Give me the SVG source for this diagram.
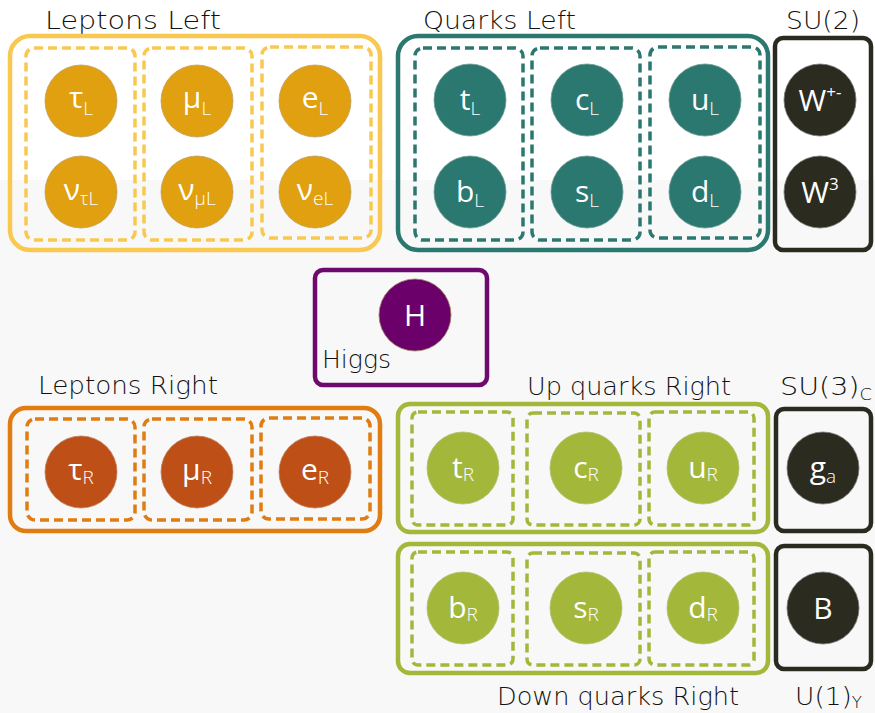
<svg xmlns="http://www.w3.org/2000/svg" width="875" height="713" viewBox="0 0 875 713">
<style>
.lbl{font-family:"DejaVu Sans",Lato,sans-serif;font-weight:200;font-size:24px;fill:#111}
.pt{font-family:"Open Sans","Noto Sans",sans-serif;font-weight:400;font-size:30px;fill:#fff;text-anchor:middle}
.sub{font-size:19px;font-weight:300}
.sup{font-size:17px}
.outer{fill:none;stroke-width:4.5}
.dash{fill:none;stroke-width:3.5;stroke-dasharray:9 5}
.yl{stroke:#f8c850}.ylc{fill:#e0a010;stroke:#bfa060;stroke-width:0.8}
.tl{stroke:#2b7870}.tlc{fill:#2b7870;stroke:#6a9a90;stroke-width:0.8}
.dk{stroke:#2a2a20}.dkc{fill:#2b2b20;stroke:#777;stroke-width:0.8}
.or{stroke:#e07c12}.orc{fill:#bd4f17;stroke:#c08060;stroke-width:0.8}
.gr{stroke:#a2b83a}.grc{fill:#a3b83a;stroke:#b0c070;stroke-width:0.8}
.pu{stroke:#6e0a6e}.puc{fill:#6b006b;stroke:#a08060;stroke-width:0.8}
</style>
<rect x="0" y="0" width="875" height="713" fill="#f8f8f8"/>
<rect x="0" y="0" width="875" height="180" fill="#ffffff"/>

<g id="leptons-left">
<text class="lbl" x="45" y="29" textLength="176" lengthAdjust="spacingAndGlyphs">Leptons  Left</text>
<rect class="outer yl" x="10" y="36" width="370" height="214" rx="20"/>
<rect class="dash yl" x="26" y="48" width="109" height="192" rx="8"/>
<rect class="dash yl" x="144" y="48" width="108" height="192" rx="8"/>
<rect class="dash yl" x="262" y="47" width="109" height="191" rx="8"/>
<circle class="ylc" cx="81" cy="101" r="36"/>
<text class="pt" x="81" y="108">τ<tspan class="sub" dy="7">L</tspan></text>
<circle class="ylc" cx="197" cy="101" r="36"/>
<text class="pt" x="197" y="108">μ<tspan class="sub" dy="7">L</tspan></text>
<circle class="ylc" cx="315" cy="101" r="36"/>
<text class="pt" x="315" y="108">e<tspan class="sub" dy="7">L</tspan></text>
<circle class="ylc" cx="81" cy="192" r="36"/>
<text class="pt" x="81" y="200">ν<tspan class="sub" dy="5">τL</tspan></text>
<circle class="ylc" cx="197" cy="192" r="36"/>
<text class="pt" x="197" y="200">ν<tspan class="sub" dy="5">μL</tspan></text>
<circle class="ylc" cx="315" cy="192" r="36"/>
<text class="pt" x="315" y="200">ν<tspan class="sub" dy="5">eL</tspan></text>
</g>

<g id="quarks-left">
<text class="lbl" x="423" y="29" textLength="153" lengthAdjust="spacingAndGlyphs">Quarks Left</text>
<rect class="outer tl" x="398" y="36" width="370" height="214" rx="20"/>
<rect class="dash tl" x="415" y="48" width="108" height="192" rx="8"/>
<rect class="dash tl" x="532" y="48" width="108" height="192" rx="8"/>
<rect class="dash tl" x="650" y="47" width="110" height="191" rx="8"/>
<circle class="tlc" cx="470" cy="100" r="36"/>
<text class="pt" x="470" y="110">t<tspan class="sub" dy="5">L</tspan></text>
<circle class="tlc" cx="587" cy="100" r="36"/>
<text class="pt" x="587" y="110">c<tspan class="sub" dy="5">L</tspan></text>
<circle class="tlc" cx="705" cy="100" r="36"/>
<text class="pt" x="705" y="110">u<tspan class="sub" dy="5">L</tspan></text>
<circle class="tlc" cx="470" cy="192" r="36"/>
<text class="pt" x="470" y="202">b<tspan class="sub" dy="5">L</tspan></text>
<circle class="tlc" cx="587" cy="192" r="36"/>
<text class="pt" x="587" y="202">s<tspan class="sub" dy="5">L</tspan></text>
<circle class="tlc" cx="705" cy="192" r="36"/>
<text class="pt" x="705" y="202">d<tspan class="sub" dy="5">L</tspan></text>
</g>

<g id="su2">
<text class="lbl" x="786" y="29" textLength="74" lengthAdjust="spacingAndGlyphs">SU(2)</text>
<rect class="outer dk" x="775" y="38" width="96" height="212" rx="8"/>
<circle class="dkc" cx="820" cy="100" r="36"/>
<text class="pt" x="820" y="111">W<tspan class="sup" dy="-13">+-</tspan></text>
<circle class="dkc" cx="820" cy="192" r="36"/>
<text class="pt" x="820" y="203">W<tspan class="sup" dy="-13">3</tspan></text>
</g>

<g id="higgs">
<rect class="outer pu" x="315" y="270" width="172" height="115" rx="8"/>
<circle class="puc" cx="415" cy="315" r="36"/>
<text class="pt" x="415" y="326">H</text>
<text class="lbl" x="322" y="368" textLength="69" lengthAdjust="spacingAndGlyphs">Higgs</text>
</g>

<g id="leptons-right">
<text class="lbl" x="38" y="394" textLength="180" lengthAdjust="spacingAndGlyphs">Leptons Right</text>
<rect class="outer or" x="10" y="408" width="370" height="123" rx="16"/>
<rect class="dash or" x="27" y="419" width="108" height="101" rx="8"/>
<rect class="dash or" x="144" y="419" width="108" height="101" rx="8"/>
<rect class="dash or" x="261" y="418" width="109" height="101" rx="8"/>
<circle class="orc" cx="81" cy="472" r="36"/>
<text class="pt" x="81" y="480">τ<tspan class="sub" dy="4">R</tspan></text>
<circle class="orc" cx="197" cy="472" r="36"/>
<text class="pt" x="197" y="480">μ<tspan class="sub" dy="4">R</tspan></text>
<circle class="orc" cx="315" cy="472" r="36"/>
<text class="pt" x="315" y="480">e<tspan class="sub" dy="4">R</tspan></text>
</g>

<g id="up-quarks-right">
<text class="lbl" x="527" y="395" textLength="204" lengthAdjust="spacingAndGlyphs">Up quarks Right</text>
<rect class="outer gr" x="398" y="404" width="370" height="128" rx="12"/>
<rect class="dash gr" x="412" y="412" width="101" height="113" rx="6"/>
<rect class="dash gr" x="527" y="413" width="113" height="112" rx="6"/>
<rect class="dash gr" x="649" y="412" width="105" height="113" rx="6"/>
<circle class="grc" cx="463" cy="468" r="36"/>
<text class="pt" x="463" y="478">t<tspan class="sub" dy="3">R</tspan></text>
<circle class="grc" cx="586" cy="468" r="36"/>
<text class="pt" x="586" y="478">c<tspan class="sub" dy="3">R</tspan></text>
<circle class="grc" cx="703" cy="468" r="36"/>
<text class="pt" x="703" y="478">u<tspan class="sub" dy="3">R</tspan></text>
</g>

<g id="down-quarks-right">
<rect class="outer gr" x="398" y="544" width="370" height="129" rx="12"/>
<rect class="dash gr" x="412" y="552" width="101" height="113" rx="6"/>
<rect class="dash gr" x="527" y="553" width="113" height="112" rx="6"/>
<rect class="dash gr" x="649" y="552" width="105" height="113" rx="6"/>
<circle class="grc" cx="463" cy="608" r="36"/>
<text class="pt" x="463" y="618">b<tspan class="sub" dy="3">R</tspan></text>
<circle class="grc" cx="586" cy="608" r="36"/>
<text class="pt" x="586" y="618">s<tspan class="sub" dy="3">R</tspan></text>
<circle class="grc" cx="703" cy="608" r="36"/>
<text class="pt" x="703" y="618">d<tspan class="sub" dy="3">R</tspan></text>
<text class="lbl" x="497" y="705" textLength="242" lengthAdjust="spacingAndGlyphs">Down quarks Right</text>
</g>

<g id="su3">
<text class="lbl" x="780" y="395" textLength="92" lengthAdjust="spacingAndGlyphs">SU(3)<tspan font-size="15" dy="5">C</tspan></text>
<rect class="outer dk" x="776" y="409" width="95" height="122" rx="8"/>
<circle class="dkc" cx="823" cy="468" r="36"/>
<text class="pt" x="823" y="478">g<tspan class="sub" dy="5">a</tspan></text>
</g>

<g id="u1">
<rect class="outer dk" x="776" y="546" width="95" height="123" rx="8"/>
<circle class="dkc" cx="823" cy="608" r="36"/>
<text class="pt" x="823" y="619">B</text>
<text class="lbl" x="795" y="705" textLength="67" lengthAdjust="spacingAndGlyphs">U(1)<tspan font-size="15" dy="3">Y</tspan></text>
</g>

<g id="connectors"></g>
</svg>
